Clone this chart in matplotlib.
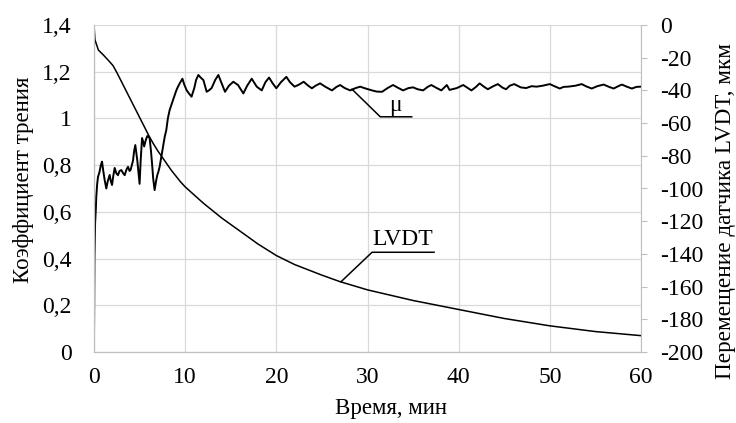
import matplotlib
matplotlib.use("Agg")
import matplotlib.pyplot as plt

plt.rcParams['font.family'] = ['Liberation Serif', 'DejaVu Serif']
plt.rcParams['font.size'] = 17
plt.rcParams['axes.unicode_minus'] = False

# Коэффициент трения (левая ось)
t_mu = [0.0, 0.05, 0.12, 0.2, 0.25, 0.35, 0.44, 0.6, 0.75, 0.88,
        1.0, 1.17, 1.35, 1.5, 1.72, 1.85, 1.98, 2.1, 2.27, 2.45,
        2.63, 2.8, 3.0, 3.2, 3.37, 3.55, 3.73, 3.9, 4.02, 4.15,
        4.28, 4.4, 4.53, 4.65, 4.75, 4.9, 5.0, 5.12, 5.27, 5.4,
        5.5, 5.7, 5.85, 6.0, 6.1, 6.25, 6.36, 6.5, 6.65, 6.8,
        6.94, 7.05, 7.2, 7.4, 7.57, 7.75, 7.93, 8.1, 8.3, 8.5,
        8.67, 8.85, 9.03, 9.2, 9.4, 9.55, 9.7, 9.9, 10.17, 10.45,
        10.7, 11.0, 11.2, 11.45, 11.7, 12.0, 12.36, 12.6, 12.9, 13.3,
        13.64, 14.0, 14.37, 14.8, 15.28, 15.8, 16.38, 16.8, 17.3, 17.85,
        18.4, 18.8, 19.2, 19.6, 20.0, 20.5, 21.1, 21.5, 22.0, 22.5,
        23.0, 23.5, 23.9, 24.3, 24.8, 25.4, 26.1, 26.6, 27.0, 27.5,
        28.1, 28.7, 29.2, 29.8, 30.5, 31.0, 31.6, 32.2, 32.8, 33.4,
        33.9, 34.5, 35.0, 35.5, 36.1, 36.6, 37.0, 37.6, 38.1, 38.7,
        39.0, 39.8, 40.5, 41.0, 41.4, 41.9, 42.3, 42.8, 43.2, 43.8,
        44.3, 44.8, 45.2, 45.6, 46.1, 46.8, 47.4, 48.0, 48.55, 49.2,
        50.0, 50.5, 51.1, 51.5, 52.0, 52.8, 53.5, 54.0, 54.6, 55.2,
        55.9, 56.5, 57.0, 57.5, 57.9, 58.5, 59.0, 59.5, 60.0]
mu = [0.05, 0.40, 0.55, 0.61, 0.665, 0.72, 0.75, 0.77, 0.80, 0.815,
      0.78, 0.736, 0.70, 0.73, 0.758, 0.73, 0.715, 0.75, 0.788, 0.765,
      0.757, 0.775, 0.779, 0.765, 0.757, 0.78, 0.793, 0.775, 0.78, 0.80,
      0.82, 0.86, 0.886, 0.85, 0.82, 0.76, 0.72, 0.82, 0.916, 0.90,
      0.88, 0.91, 0.925, 0.92, 0.916, 0.86, 0.81, 0.74, 0.693, 0.73,
      0.757, 0.77, 0.793, 0.84, 0.88, 0.92, 0.95, 1.00, 1.036, 1.06,
      1.079, 1.10, 1.12, 1.135, 1.15, 1.16, 1.17, 1.145, 1.12, 1.105,
      1.093, 1.13, 1.165, 1.186, 1.175, 1.164, 1.114, 1.12, 1.13, 1.165,
      1.186, 1.15, 1.114, 1.14, 1.157, 1.143, 1.107, 1.14, 1.17, 1.136,
      1.12, 1.155, 1.175, 1.15, 1.129, 1.155, 1.178, 1.155, 1.136, 1.145,
      1.157, 1.14, 1.129, 1.14, 1.15, 1.135, 1.12, 1.135, 1.143, 1.13,
      1.12, 1.13, 1.136, 1.128, 1.12, 1.115, 1.114, 1.13, 1.143, 1.13,
      1.12, 1.13, 1.133, 1.125, 1.12, 1.135, 1.143, 1.13, 1.12, 1.143,
      1.122, 1.13, 1.143, 1.13, 1.12, 1.135, 1.15, 1.135, 1.125, 1.138,
      1.147, 1.132, 1.125, 1.14, 1.147, 1.133, 1.13, 1.138, 1.136, 1.14,
      1.147, 1.138, 1.128, 1.135, 1.136, 1.14, 1.147, 1.137, 1.128, 1.138,
      1.145, 1.135, 1.128, 1.138, 1.145, 1.135, 1.128, 1.135, 1.136]

# Перемещение датчика LVDT, мкм (правая ось)
t_lvdt = [0.0, 0.1, 0.48, 1.02, 1.54, 2.08, 2.5, 3.0, 3.5, 4.0,
          4.5, 5.0, 5.5, 6.0, 6.5, 7.0, 7.5, 8.0, 8.5, 9.0,
          9.5, 10.0, 11.0, 12.0, 14, 16, 18, 20, 22, 25,
          27, 30, 35, 40, 45, 50, 55, 60]
lvdt = [0, -9, -15.3, -18.3, -21.4, -24.8, -29, -34.5, -40, -45.5,
        -51, -56.5, -62, -67.5, -72.5, -77, -81, -85, -89, -92.5,
        -96, -99, -104, -109, -118, -126, -134, -141, -146.5, -153,
        -157, -162, -168.5, -174, -179.5, -184, -187.5, -190]

x_ticks = [0, 10, 20, 30, 40, 50, 60]
mu_ticks = [0, 0.2, 0.4, 0.6, 0.8, 1.0, 1.2, 1.4]
mu_labels = ['0', '0,2', '0,4', '0,6', '0,8', '1', '1,2', '1,4']
lvdt_ticks = [0, -20, -40, -60, -80, -100, -120, -140, -160, -180, -200]

fig = plt.figure(figsize=(7.36, 4.23), dpi=100)
ax = fig.add_axes([94 / 736, 1 - 352 / 423, 547 / 736, 327 / 423])
ax2 = ax.twinx()

grid_c = '#d9d9d9'
spine_c = '#bfbfbf'

ax.plot(t_mu, mu, color='black', lw=1.4)
ax.set_xlim(0, 60)
ax.set_ylim(0, 1.4)
ax.set_xticks(x_ticks)
ax.set_yticks(mu_ticks)
ax.set_yticklabels(mu_labels)
ax.grid(True, color=grid_c, lw=0.9)
ax.set_axisbelow(True)
ax.tick_params(axis='x', length=0, pad=11)
ax.tick_params(axis='y', length=0, pad=16)

ax2.plot(t_lvdt, lvdt, color='black', lw=1.1)
ax2.set_ylim(-200, 0)
ax2.set_yticks(lvdt_ticks)
ax2.tick_params(axis='y', length=4, color=spine_c, pad=10)

for a in (ax, ax2):
    a.spines['top'].set_visible(False)
    for s in ('left', 'bottom', 'right'):
        a.spines[s].set_color(spine_c)
ax.spines['right'].set_visible(False)

ax.set_xlabel('Время, мин', fontsize=16.5)
ax.xaxis.set_label_coords((391 - 94) / 547, -0.142)
ax.set_ylabel('Коэффициент трения', fontsize=16.5)
ax.yaxis.set_label_coords(-0.11, 0.526)
ax2.set_ylabel('Перемещение датчика LVDT, мкм', fontsize=16.7)
ax2.yaxis.set_label_coords(1.136, 0.43)

# выноски
ax.plot([28.3, 31.4, 34.85], [1.125, 1.007, 1.007], color='black', lw=1.1)
ax.text(33.1, 1.012, 'μ', ha='center', va='bottom')

ax2.plot([27.1, 30.5, 37.3], [-157, -139, -139], color='black', lw=1.1)
ax2.text(33.9, -137.5, 'LVDT', ha='center', va='bottom')

fig.savefig('out.png', dpi=100)
